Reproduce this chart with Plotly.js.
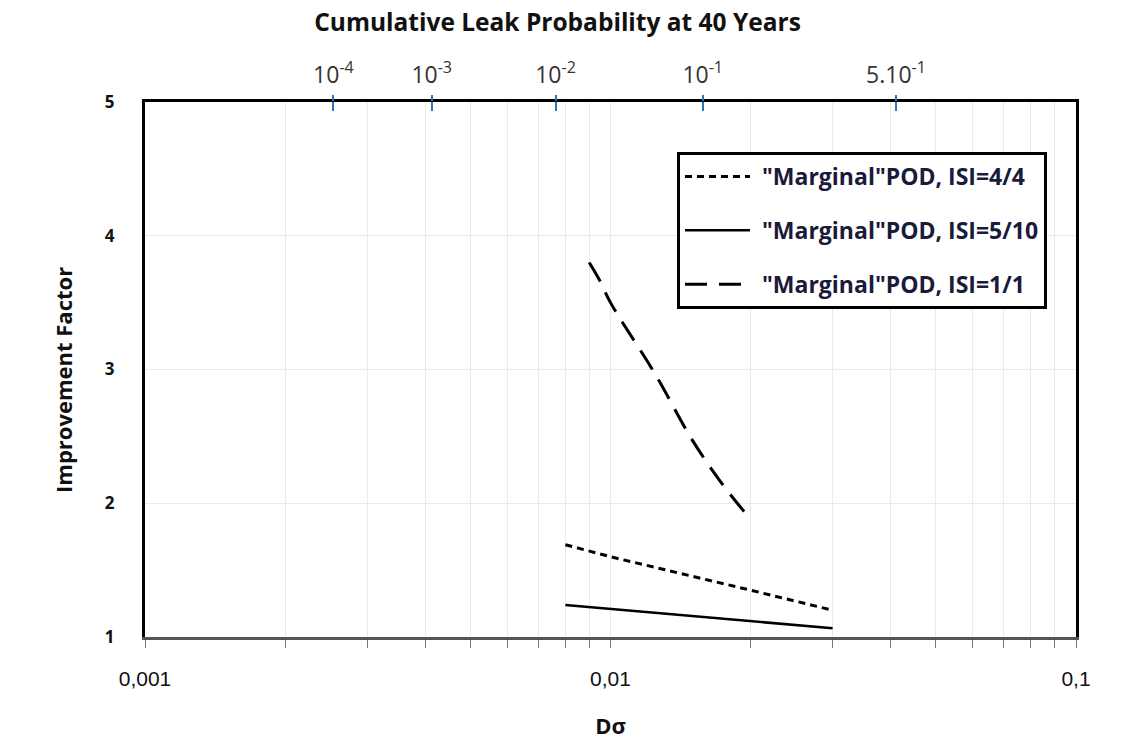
<!DOCTYPE html>
<html>
<head>
<meta charset="utf-8">
<script src="https://cdn.plot.ly/plotly-3.0.1.min.js"></script>
<style>html,body{margin:0;padding:0;background:#fff}#chart{width:1146px;height:740px}</style>
</head>
<body>
<div id="chart"></div>
<script>
// Series: D-sigma vs improvement factor
const seriesNames = ['"Marginal"POD, ISI=4/4', '"Marginal"POD, ISI=5/10', '"Marginal"POD, ISI=1/1'];
const x44 = [0.008, 0.01, 0.02, 0.03];
const y44 = [1.69, 1.60, 1.35, 1.20];
const x510 = [0.008, 0.02, 0.03];
const y510 = [1.24, 1.115, 1.065];
const x11 = [0.009, 0.0095, 0.01, 0.0125, 0.015, 0.0175, 0.02];
const y11 = [3.80, 3.66, 3.50, 2.96, 2.47, 2.13, 1.88];

// Bottom axis ticks
const bottomTickVals = [0.001, 0.01, 0.1];
const bottomTickText = ['0,001', '0,01', '0,1'];
// Top axis: cumulative leak probability mapped onto D-sigma positions
const topTickVals = [0.00254, 0.00413, 0.00762, 0.01578, 0.04106];
const topTickText = ['10<sup>-4</sup>', '10<sup>-3</sup>', '10<sup>-2</sup>', '10<sup>-1</sup>', '5.10<sup>-1</sup>'];
const yTitle = 'Improvement Factor';

const minorVals = [];
[0.001, 0.01].forEach(d => { for (let k = 2; k <= 9; k++) minorVals.push(d * k); });

const gridCol = '#efeadd';
const FONT = 'Open Sans, Liberation Sans, Arial, sans-serif';
const SANS = 'Liberation Sans, Arial, sans-serif';

const traces = [
  {x: x44, y: y44, name: seriesNames[0], mode: 'lines', legendgroup: 'a',
   line: {color: '#000', width: 3, dash: '7px,5px'}},
  {x: x510, y: y510, name: seriesNames[1], mode: 'lines', legendgroup: 'b',
   line: {color: '#000', width: 2.5, dash: 'solid'}},
  {x: x11, y: y11, name: seriesNames[2], mode: 'lines', legendgroup: 'c', line: {color: '#000', width: 3, dash: '22px,12px', shape: 'spline'}},
  // invisible traces to activate top axes
  {x: [0.001, 0.1], y: [null, null], xaxis: 'x2', showlegend: false, hoverinfo: 'skip', mode: 'lines'},
  {x: [0.001, 0.1], y: [null, null], xaxis: 'x3', showlegend: false, hoverinfo: 'skip', mode: 'lines'}
];

const layout = {
  width: 1146, height: 740,
  margin: {l: 145, r: 70, t: 102, b: 103},
  paper_bgcolor: '#fff', plot_bgcolor: '#fff',
  showlegend: true,
  title: {text: '<b>Cumulative Leak Probability at 40 Years</b>', font: {family: FONT, size: 24.5, color: '#111'},
          x: 0.4865, xref: 'container', xanchor: 'center', y: 0.970, yref: 'container', yanchor: 'middle'},
  xaxis: {
    type: 'log', range: [-3, -1], tickvals: bottomTickVals, ticktext: bottomTickText,
    ticks: 'outside', ticklen: 8, tickcolor: '#777', tickwidth: 1,
    tickfont: {family: SANS, size: 21, color: '#111'}, ticklabelstandoff: 13,
    showgrid: true, gridcolor: gridCol, gridwidth: 1,
    minor: {tickvals: minorVals, ticks: 'outside', ticklen: 8, tickcolor: '#777', showgrid: true, gridcolor: gridCol, gridwidth: 1},
    showline: true, linecolor: '#555', linewidth: 3, mirror: false, zeroline: false,
    title: {text: '<b>Dσ</b>', font: {family: FONT, size: 22, color: '#111'}, standoff: 30},
    fixedrange: true
  },
  xaxis2: {
    type: 'log', range: [-3, -1], overlaying: 'x', side: 'top', anchor: 'y',
    tickvals: topTickVals, ticktext: topTickText,
    ticks: 'inside', ticklen: 9, tickcolor: '#2e75b6', tickwidth: 2,
    tickfont: {family: FONT, size: 23, color: '#333'}, ticklabelstandoff: 7,
    showgrid: false, showline: true, linecolor: '#000', linewidth: 3, zeroline: false
  },
  xaxis3: {
    type: 'log', range: [-3, -1], overlaying: 'x', side: 'top', anchor: 'y',
    tickvals: topTickVals, ticktext: topTickText, showticklabels: false,
    ticks: 'outside', ticklen: 6, tickcolor: '#2e75b6', tickwidth: 2,
    showgrid: false, showline: false, zeroline: false
  },
  yaxis: {
    range: [1, 5], dtick: 1, tick0: 1,
    ticks: '', tickfont: {family: FONT, size: 17, color: '#111', weight: 'bold'}, ticklabelstandoff: 24,
    showgrid: true, gridcolor: gridCol, gridwidth: 1,
    showline: true, linecolor: '#000', linewidth: 3, mirror: true, zeroline: false
  },
  annotations: [{
    text: '<b>' + yTitle + '</b>', textangle: -90, showarrow: false,
    xref: 'paper', yref: 'paper', x: -0.0881, y: 0.4804, xanchor: 'center', yanchor: 'middle',
    font: {family: FONT, size: 22, color: '#111'}
  }],
  legend: {
    x: 0.5714, y: 0.9065, xanchor: 'left', yanchor: 'top',
    bgcolor: '#fff', bordercolor: '#000', borderwidth: 3,
    font: {family: FONT, size: 23, color: '#1a1a3a', weight: 'bold'},
    traceorder: 'grouped', tracegroupgap: 21, itemwidth: 72
  }
};

Plotly.newPlot('chart', traces, layout, {displayModeBar: false, staticPlot: true}).then(gd => {
  // widen legend line samples to match the reference look
  gd.querySelectorAll('.legend .legendlines path').forEach(p => p.setAttribute('d', 'M5,0h65'));
});
</script>
</body>
</html>
